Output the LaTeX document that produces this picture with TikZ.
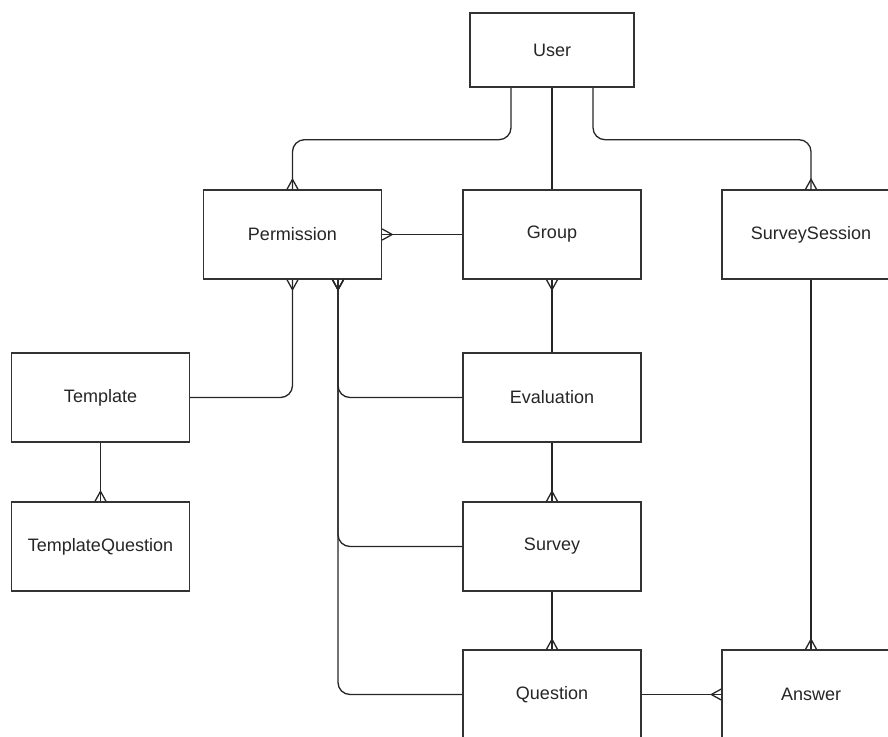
\documentclass[tikz,border=0pt]{standalone}
\usepackage{fontspec}
\setmainfont{Liberation Sans}
\usetikzlibrary{arrows.meta}
\pgfdeclarearrow{
  name = Crow,
  setup code = {
    \pgfarrowssettipend{0pt}
    \pgfarrowssetlineend{0pt}
    \pgfarrowssetbackend{-10pt}
    \pgfarrowshullpoint{0pt}{5pt}
    \pgfarrowshullpoint{0pt}{-5pt}
    \pgfarrowshullpoint{-10pt}{0pt}
  },
  drawing code = {
    \pgfpathmoveto{\pgfqpoint{0pt}{5.5pt}}
    \pgfpathlineto{\pgfqpoint{-10pt}{0pt}}
    \pgfpathlineto{\pgfqpoint{0pt}{-5.5pt}}
    \pgfusepathqstroke
  },
}
\begin{document}
\begin{tikzpicture}[x=1pt,y=-1pt,
  entity/.style={draw=black!80, line width=1.4pt, fill=white, minimum width=178pt, minimum height=89pt,
    inner sep=0pt, font=\fontsize{18}{21.6}\selectfont, text=black!85},
  conn/.style={draw=black!85, line width=1.3pt, rounded corners=12pt},
  many/.style={conn, -Crow}]
\useasboundingbox (0,0) rectangle (888,736);
\clip (0,0) rectangle (888,736);
\node[entity, minimum width=164pt, minimum height=74pt] (User) at (552,50) {User};
\node[entity] (Permission) at (292.5,234.5) {Permission};
\node[entity] (Group) at (552,234.5) {Group};
\node[entity] (SurveySession) at (811,234.5) {SurveySession};
\node[entity] (Template) at (100.5,397.5) {Template};
\node[entity] (TemplateQuestion) at (100.5,546.5) {TemplateQuestion};
\node[entity] (Evaluation) at (552,397.5) {Evaluation};
\node[entity] (Survey) at (552,546.5) {Survey};
\node[entity] (Question) at (552,694.5) {Question};
\node[entity] (Answer) at (811,694.5) {Answer};

\draw[many] ([xshift=-41pt]User.south) -- ++(0,52) -| (Permission.north);
\draw[conn] (User.south) -- (Group.north);
\draw[many] ([xshift=41pt]User.south) -- ++(0,52) -| (SurveySession.north);
\draw[many] (Group.west) -- (Permission.east);
\draw[many] (Evaluation.north) -- (Group.south);
\draw[many] (Template.east) -| (Permission.south);
\draw[many] (Template.south) -- (TemplateQuestion.north);
\draw[many] (Evaluation.south) -- (Survey.north);
\draw[many] (Survey.south) -- (Question.north);
\draw[many] (Evaluation.west) -| ([xshift=45.5pt]Permission.south);
\draw[many] (Survey.west) -| ([xshift=45.5pt]Permission.south);
\draw[many] (Question.west) -| ([xshift=45.5pt]Permission.south);
\draw[many] (SurveySession.south) -- (Answer.north);
\draw[many] (Question.east) -- (Answer.west);
\end{tikzpicture}
\end{document}
